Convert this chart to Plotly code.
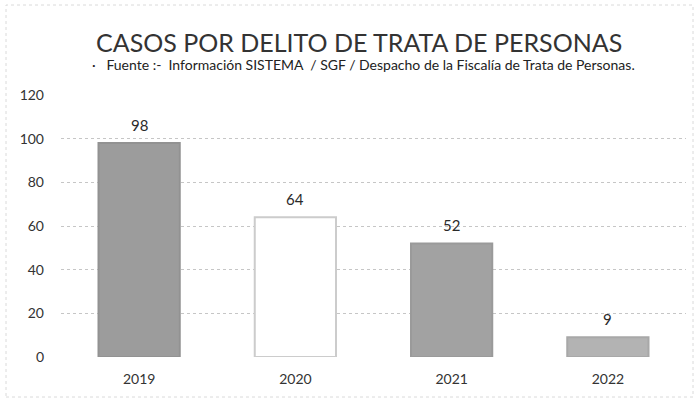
import plotly.graph_objects as go

# Cases per year
years = ["2019", "2020", "2021", "2022"]
cases = [98, 64, 52, 9]
y_ticks = [0, 20, 40, 60, 80, 100, 120]

bar_fill = ["#9c9c9c", "#ffffff", "#a2a2a2", "#b3b3b3"]
bar_edge = ["#929292", "#cccccc", "#9a9a9a", "#a8a8a8"]

FONT = "Lato, 'Open Sans', sans-serif"

fig = go.Figure(
    go.Bar(
        x=years,
        y=cases,
        width=0.52,
        marker=dict(color=bar_fill, line=dict(color=bar_edge, width=2)),
        hoverinfo="x+y",
    )
)

# value labels above each bar (category index as x position)
for i, v in enumerate(cases):
    fig.add_annotation(
        x=i, y=v, text=str(v), showarrow=False,
        yanchor="bottom", yshift=7,
        font=dict(family=FONT, size=15, color="#2a2a2a"),
    )

fig.add_annotation(
    text="CASOS POR DELITO DE TRATA DE PERSONAS",
    xref="paper", yref="paper", x=0.476, y=1.0, yshift=53,
    showarrow=False, xanchor="center", yanchor="middle",
    font=dict(family=FONT, size=25, color="#333333"),
)
fig.add_annotation(
    text="·   Fuente :-  Información SISTEMA  / SGF / Despacho de la Fiscalía de Trata de Personas.",
    xref="paper", yref="paper", x=0.484, y=1.0, yshift=31,
    showarrow=False, xanchor="center", yanchor="middle",
    font=dict(family=FONT, size=14, color="#222222"),
)

fig.update_layout(
    width=697,
    height=403,
    margin=dict(l=61, r=11, t=95, b=46),
    paper_bgcolor="white",
    plot_bgcolor="white",
    showlegend=False,
    font=dict(family=FONT, color="#333333"),
    shapes=[
        dict(
            type="rect", xref="paper", yref="paper",
            x0=-55 / 625, x1=1 + 7 / 625, y0=-40 / 262, y1=1 + 90 / 262,
            line=dict(color="#dadada", width=1, dash="dot"),
            fillcolor="rgba(0,0,0,0)", layer="below",
        )
    ],
)

fig.update_xaxes(
    type="category",
    categoryorder="array",
    categoryarray=years,
    range=[-0.5, len(years) - 0.5],
    showgrid=False,
    showline=False,
    ticks="",
    ticklabelstandoff=12,
    tickfont=dict(family=FONT, size=14, color="#333333"),
)
fig.update_yaxes(
    range=[0, 120],
    tickvals=y_ticks,
    showgrid=True,
    gridcolor="#c6c6c6",
    griddash="dot",
    gridwidth=1,
    zeroline=False,
    showline=False,
    ticks="",
    ticklabelstandoff=16,
    tickfont=dict(family=FONT, size=14, color="#333333"),
)

fig.write_html("out.html")
